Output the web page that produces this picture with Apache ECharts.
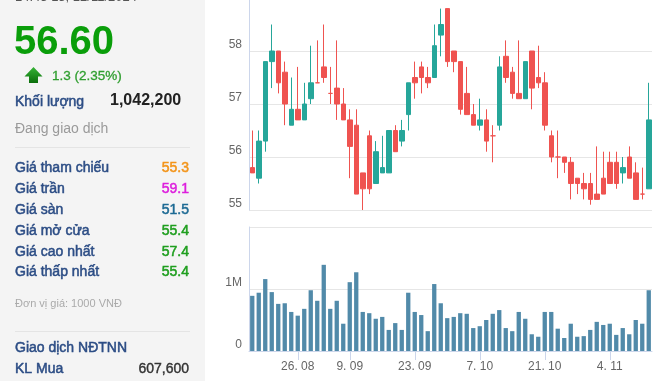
<!DOCTYPE html>
<html>
<head>
<meta charset="utf-8">
<script src="https://cdn.jsdelivr.net/npm/echarts@6/dist/echarts.min.js"></script>
<style>
html,body{margin:0;padding:0;background:#fff;}
#chart{width:662px;height:381px;}
</style>
</head>
<body>
<div id="chart"></div>
<script>
// ---- data ----
const dates = ['15. 08','16. 08','19. 08','20. 08','21. 08','22. 08','23. 08','26. 08','27. 08','28. 08','29. 08','30. 08',
  '4. 09','5. 09','6. 09','9. 09','10. 09','11. 09','12. 09','13. 09','16. 09','17. 09','18. 09','19. 09','20. 09',
  '23. 09','24. 09','25. 09','26. 09','27. 09','30. 09','1. 10','2. 10','3. 10','4. 10','7. 10','8. 10','9. 10','10. 10','11. 10',
  '14. 10','15. 10','16. 10','17. 10','18. 10','21. 10','22. 10','23. 10','24. 10','25. 10','28. 10','29. 10','30. 10','31. 10',
  '1. 11','4. 11','5. 11','6. 11','7. 11','8. 11','11. 11','12. 11'];
const tickLabels = ['26. 08','9. 09','23. 09','7. 10','21. 10','4. 11'];
const opens = [55.8,55.6,56.3,57.8,58.0,57.6,56.6,56.9,56.7,57.1, 57.4,57.7,57.2,57.3,57.0,56.7,56.6,55.7,56.4,55.5,
  55.7,55.7,56.5,56.3,56.8,57.5,57.7,57.5,57.5,58.3, 58.8,58.0,57.8,57.2,56.8,56.6,56.7,56.4,56.6,57.9,
  57.6,57.2,57.1,58.0,57.5,57.4,56.4,56.0,56.0,55.9, 55.6,55.5,55.5,55.3,55.6,55.9,55.9,55.7,56.0,55.7, 55.3,55.4];
const closes = [55.7,56.3,57.8,58.0,57.4,57.0,56.9,56.7,57.0,57.4, 57.4,57.5,57.2,57.0,56.7,56.2,55.3,55.4,55.4,56.1,
  55.8,56.5,56.1,56.5,57.4,57.4,57.5,57.4,58.1,58.5, 57.8,57.8,56.9,56.8,56.6,56.7,56.3,56.4,57.7,57.5,
  57.2,57.1,57.8,57.3,57.4,56.6,56.0,56.0,55.9,55.5, 55.5,55.4,55.2,55.2,55.3,55.5,55.5,55.8,55.6,55.2, 55.3,56.7];
const lows = [55.7,55.5,56.1,57.3,57.2,56.6,56.6,56.7,56.7,57.0, 57.4,57.4,57.0,56.7,56.7,55.6,55.3,55.0,55.3,55.5,
  55.7,55.7,56.1,56.2,56.5,57.1,57.2,57.3,57.5,57.9, 57.7,57.6,56.8,56.8,56.6,56.5,56.1,55.9,56.5,57.4,
  57.1,57.1,57.1,56.9,57.3,56.5,55.9,55.6,55.7,55.2, 55.3,55.2,55.1,55.2,55.3,55.5,55.4,55.5,55.6,55.2, 55.2,55.4];
const highs = [56.5,56.5,57.8,58.5,58.0,57.8,57.5,57.7,57.4,58.1, 58.2,58.5,57.7,58.2,57.3,56.9,56.9,55.7,56.5,56.3,
  56.4,56.5,56.6,56.7,57.4,57.8,57.8,57.7,58.5,58.8, 58.8,58.0,57.8,57.7,57.0,57.1,56.9,56.6,57.9,58.2,
  57.7,58.2,57.8,58.0,58.1,57.6,56.5,56.5,56.0,56.0, 55.6,55.7,55.7,56.2,56.1,56.1,56.1,56.0,56.2,55.9, 55.8,57.4];
const volumes = [890000,940000,1160000,950000,760000,770000,630000,570000,680000,980000,
  810000,1390000,680000,810000,440000,1110000,1270000,630000,610000,520000,
  550000,340000,450000,340000,940000,630000,580000,320000,1080000,770000,
  530000,550000,610000,600000,370000,400000,500000,600000,660000,370000,
  320000,630000,520000,270000,230000,630000,630000,360000,210000,440000,
  230000,240000,340000,470000,420000,440000,260000,370000,270000,500000,
  440000,980000];
const priceTicks = [55, 59, 1];      // min, max, interval
const volumeTicks = [0, 2000000, 1000000];

// header panel texts
const stamp = '14:45 15, 12/11/2024';
const lastPrice = '56.60';
const change = '1.3 (2.35%)';
const infoLabels = ['Giá tham chiếu','Giá trần','Giá sàn','Giá mở cửa','Giá cao nhất','Giá thấp nhất'];
const infoValues = ['55.3','59.1','51.5','55.4','57.4','55.4'];
const infoColors = ['#f39419','#dd1fdd','#1d6a94','#1e9e1e','#1e9e1e','#1e9e1e'];

// ---- build ----
const candleData = opens.map((o, i) => [o, closes[i], lows[i], highs[i]]);
const showTick = (idx, val) => tickLabels.indexOf(val !== undefined ? val : dates[idx]) >= 0;

const FONT = 'Arial, "Liberation Sans", sans-serif';
const labelColor = '#2c4d85';
const g = [];
g.push({type:'rect', z:0, shape:{x:0,y:0,width:205,height:381}, style:{fill:'#f4f4f4'}});
function txt(t, x, y, font, fill, align, heavy) {
  const style = {text:t, font:font, fill:fill,
    textAlign: align || 'left', align: align || 'left', textVerticalAlign:'middle', verticalAlign:'middle'};
  if (heavy) { style.stroke = fill; style.lineWidth = heavy; }
  g.push({type:'text', z:1, x:x, y:y, style:style});
}
txt(stamp, 15, -3, '13px ' + FONT, '#555');
txt(lastPrice, 14, 42.5, 'bold 40px ' + FONT, '#0a9e0a');
g.push({type:'polygon', z:1, shape:{points:[[33.5,67],[42.5,76.5],[38,76.5],[38,83],[29,83],[29,76.5],[24.5,76.5]]},
  style:{fill:{type:'linear',x:0,y:0,x2:0,y2:1,colorStops:[{offset:0,color:'#37b437'},{offset:1,color:'#0b6e0b'}]}}});
txt(change, 52, 76, '13.5px ' + FONT, '#2e9e2e', 'left', 0.3);
txt('Khối lượng', 15, 102, '14px ' + FONT, labelColor, 'left', 0.5);
txt('1,042,200', 110, 100.5, 'bold 16px ' + FONT, '#222');
txt('Đang giao dịch', 15, 129.5, '14px ' + FONT, '#9a9a9a');
g.push({type:'line', z:1, shape:{x1:15,y1:147.5,x2:190,y2:147.5}, style:{stroke:'#e4e4e4', lineWidth:1}});
infoLabels.forEach((l, i) => {
  const y = 168.5 + i * 20.8;
  txt(l, 15, y, '14px ' + FONT, labelColor, 'left', 0.5);
  txt(infoValues[i], 189, y, '14px ' + FONT, infoColors[i], 'right', 0.5);
});
txt('Đơn vị giá: 1000 VNĐ', 15, 303.5, '11px ' + FONT, '#aaa');
g.push({type:'line', z:1, shape:{x1:15,y1:331.5,x2:190,y2:331.5}, style:{stroke:'#e4e4e4', lineWidth:1}});
txt('Giao dịch NĐTNN', 15, 348, '14px ' + FONT, labelColor, 'left', 0.5);
txt('KL Mua', 15, 369, '14px ' + FONT, labelColor, 'left', 0.5);
txt('607,600', 189, 369, '14px ' + FONT, '#333', 'right', 0.4);

const axisLabelStyle = {color:'#666', fontSize:12, fontFamily:FONT};
const option = {
  animation: false,
  backgroundColor: '#fff',
  graphic: {elements: g},
  grid: [
    {left:249, right:10, top:-2, height:212, containLabel:false, outerBoundsMode:'none'},
    {left:249, right:10, top:227, height:124, containLabel:false, outerBoundsMode:'none'}
  ],
  xAxis: [
    {type:'category', gridIndex:0, data:dates, boundaryGap:true,
      axisLine:{show:false}, axisTick:{show:false}, axisLabel:{show:false}, splitLine:{show:false}},
    {type:'category', gridIndex:1, data:dates, boundaryGap:true,
      axisLine:{show:true, lineStyle:{color:'#ccd6eb'}},
      axisTick:{show:true, alignWithLabel:true, length:9, interval:showTick, lineStyle:{color:'#ccd6eb'}},
      axisLabel:Object.assign({interval:showTick, margin:10}, axisLabelStyle),
      splitLine:{show:false}}
  ],
  yAxis: [
    {type:'value', gridIndex:0, min:priceTicks[0], max:priceTicks[1], interval:priceTicks[2],
      axisLine:{show:true, lineStyle:{color:'#ccd6eb'}}, axisTick:{show:false},
      axisLabel:Object.assign({margin:7, verticalAlign:'bottom'}, axisLabelStyle),
      splitLine:{show:true, lineStyle:{color:'#e6e6e6'}}},
    {type:'value', gridIndex:1, min:volumeTicks[0], max:volumeTicks[1], interval:volumeTicks[2],
      axisLine:{show:true, lineStyle:{color:'#ccd6eb'}}, axisTick:{show:false},
      axisLabel:Object.assign({margin:7, verticalAlign:'bottom',
        formatter:v => v === 0 ? '0' : (v === 1000000 ? '1M' : '')}, axisLabelStyle),
      splitLine:{show:true, lineStyle:{color:'#e6e6e6'}}}
  ],
  series: [
    {type:'candlestick', xAxisIndex:0, yAxisIndex:0, data:candleData, barWidth:5,
      itemStyle:{color:'#26a69a', color0:'#ef5350', borderColor:'#26a69a', borderColor0:'#ef5350',
        borderColorDoji:'#ef5350', borderWidth:1}},
    {type:'bar', xAxisIndex:1, yAxisIndex:1, data:volumes, barWidth:4.3,
      itemStyle:{color:'#518aa9'}}
  ]
};
const chart = echarts.init(document.getElementById('chart'), null, {renderer:'canvas'});
chart.setOption(option);
</script>
</body>
</html>
